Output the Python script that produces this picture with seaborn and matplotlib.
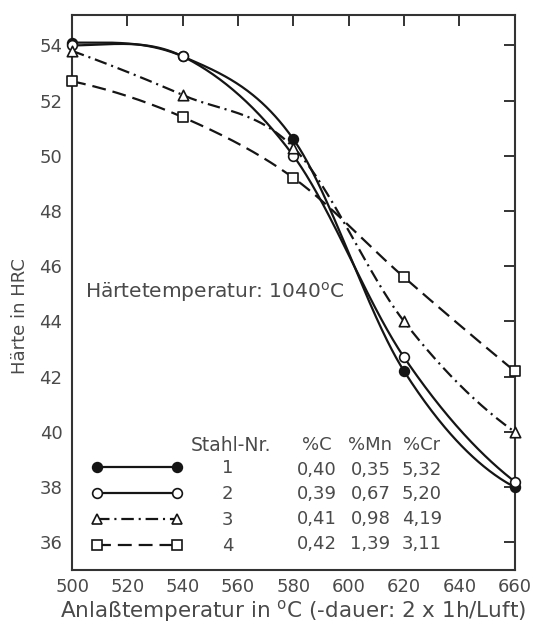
import numpy as np
import pandas as pd
import matplotlib
matplotlib.use("Agg")
import matplotlib.pyplot as plt
from matplotlib.lines import Line2D
import seaborn as sns

# ---- data ----
temps = [500, 540, 580, 620, 660]
steel1 = [54.1, 53.6, 50.6, 42.2, 38.0]
steel2 = [54.0, 53.6, 50.0, 42.7, 38.2]
steel3 = [53.8, 52.2, 50.3, 44.0, 40.0]
steel4 = [52.7, 51.4, 49.2, 45.6, 42.2]
steel_nr = ["1", "2", "3", "4"]
pct_c = ["0,40", "0,39", "0,41", "0,42"]
pct_mn = ["0,35", "0,67", "0,98", "1,39"]
pct_cr = ["5,32", "5,20", "4,19", "3,11"]
xticks = [500, 520, 540, 560, 580, 600, 620, 640, 660]
yticks = [36, 38, 40, 42, 44, 46, 48, 50, 52, 54]


def smooth_curve(x, y, xs):
    """Cubic Hermite curve through the measured points (drawing only)."""
    x = np.asarray(x, float)
    y = np.asarray(y, float)
    n = len(x)
    h = np.diff(x)
    delta = np.diff(y) / h
    d = np.zeros(n)
    for k in range(1, n - 1):
        d[k] = (y[k + 1] - y[k - 1]) / (x[k + 1] - x[k - 1])

    def end(h0, h1, d0, d1):
        s = ((2 * h0 + h1) * d0 - h0 * d1) / (h0 + h1)
        if np.sign(s) != np.sign(d0):
            return 0.0
        if np.sign(d0) != np.sign(d1) and abs(s) > 3 * abs(d0):
            return 3 * d0
        return s

    d[0] = end(h[0], h[1], delta[0], delta[1])
    d[-1] = end(h[-1], h[-2], delta[-1], delta[-2])
    idx = np.clip(np.searchsorted(x, xs) - 1, 0, n - 2)
    hh = h[idx]
    t = (xs - x[idx]) / hh
    h00 = 2 * t ** 3 - 3 * t ** 2 + 1
    h10 = t ** 3 - 2 * t ** 2 + t
    h01 = -2 * t ** 3 + 3 * t ** 2
    h11 = t ** 3 - t ** 2
    return (h00 * y[idx] + h10 * hh * d[idx] + h01 * y[idx + 1]
            + h11 * hh * d[idx + 1])


sns.set_theme(style="white")
plt.rcParams["font.family"] = ["DejaVu Sans"]
plt.rcParams["lines.scale_dashes"] = False
plt.rcParams["mathtext.default"] = "regular"

TXT = "#4a4a4a"
INK = "#151515"

fig = plt.figure(figsize=(5.34, 6.25), dpi=100)
ax = fig.add_axes([0.135, 0.088, 0.829, 0.888])

series = [steel1, steel2, steel3, steel4]
markers = ["o", "o", "^", "s"]
faces = [INK, "white", "white", "white"]
dash_styles = [(0, ()), (0, ()), (0, (9, 3.5, 1.5, 3.5)), (0, (10, 5))]
msizes = [7, 7, 7.5, 7]

xs = np.linspace(temps[0], temps[-1], 400)
handles = []
for k, vals in enumerate(series):
    ys = smooth_curve(temps, vals, xs)
    ax.plot(xs, ys, color=INK, lw=1.6, linestyle=dash_styles[k], zorder=2)
    df = pd.DataFrame({"T": temps, "HRC": vals})
    sns.scatterplot(data=df, x="T", y="HRC", ax=ax, marker=markers[k],
                    s=msizes[k] ** 2, color=faces[k], edgecolor=INK,
                    linewidth=1.2, zorder=3, legend=False, clip_on=False)
    handles.append(Line2D([], [], color=INK, lw=1.6, linestyle=dash_styles[k],
                          marker=markers[k], markersize=msizes[k],
                          markerfacecolor=faces[k], markeredgecolor=INK,
                          markeredgewidth=1.2))

ax.set_xlim(500, 660)
ax.set_ylim(35, 55.1)
ax.set_xticks(xticks)
ax.set_yticks(yticks)
ax.tick_params(direction="in", top=True, right=True, labeltop=False,
               labelright=False, length=8, width=1.4, color="#333333",
               labelsize=13, labelcolor=TXT)
ax.tick_params(axis="y", pad=7)
ax.tick_params(axis="x", pad=6)
for sp in ax.spines.values():
    sp.set_color("#333333")
    sp.set_linewidth(1.5)

ax.set_xlabel("Anlaßtemperatur in $^{o}$C (-dauer: 2 x 1h/Luft)",
              fontsize=15.5, color=TXT, labelpad=1)
ax.set_ylabel("Härte in HRC", fontsize=13, color=TXT)
ax.yaxis.set_label_coords(-0.098, 0.458)

ax.text(0.030, 0.50, "Härtetemperatur: 1040$^{o}$C", transform=ax.transAxes,
        fontsize=14.5, color=TXT, ha="left", va="center")

leg = ax.legend(handles, steel_nr, numpoints=2, frameon=False, fontsize=13,
                handlelength=5.0, handletextpad=2.2, labelspacing=0.45,
                borderpad=0, borderaxespad=0, loc="center left",
                bbox_to_anchor=(0.045, 0.113))
for t in leg.get_texts():
    t.set_color(TXT)

header_y = 0.225
row_y = [0.180, 0.137, 0.092, 0.047]
ax.text(0.359, header_y, "Stahl-Nr.", transform=ax.transAxes, fontsize=13.5,
        color=TXT, ha="center", va="center")
for cx, head, col in [(0.552, "%C", pct_c), (0.674, "%Mn", pct_mn),
                      (0.79, "%Cr", pct_cr)]:
    ax.text(cx, header_y, head, transform=ax.transAxes, fontsize=13,
            color=TXT, ha="center", va="center")
    for yy, v in zip(row_y, col):
        ax.text(cx, yy, v, transform=ax.transAxes, fontsize=13, color=TXT,
                ha="center", va="center")

fig.savefig("out.png", dpi=100)
